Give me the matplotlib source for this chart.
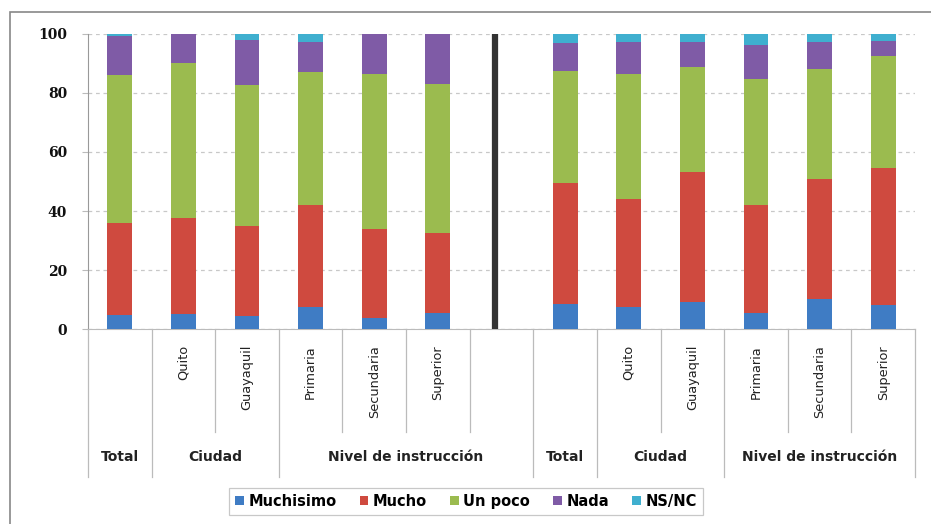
import numpy as np
import matplotlib
matplotlib.use("Agg")
import matplotlib.pyplot as plt
from matplotlib.patches import Rectangle
from matplotlib.lines import Line2D

# ---- data ----
sub_labels = ["", "Quito", "Guayaquil", "Primaria", "Secundaria", "Superior",
              "", "Quito", "Guayaquil", "Primaria", "Secundaria", "Superior"]
group_labels = ["Total", "Ciudad", "Nivel de instrucción",
                "Total", "Ciudad", "Nivel de instrucción"]
series_names = ["Muchisimo", "Mucho", "Un poco", "Nada", "NS/NC"]
muchisimo = [4.8, 5.2, 4.5, 7.4, 3.7, 5.4, 8.6, 7.4, 9.3, 5.4, 10.1, 8.2]
mucho     = [31.3, 32.3, 30.4, 34.8, 30.1, 27.1, 40.8, 36.8, 43.9, 36.8, 40.6, 46.3]
un_poco   = [49.8, 52.5, 47.9, 44.8, 52.6, 50.5, 38.1, 42.2, 35.6, 42.4, 37.3, 38.0]
nada      = [13.3, 10.0, 15.1, 10.3, 13.6, 16.8, 9.5, 10.9, 8.5, 11.6, 9.3, 5.1]
ns_nc     = [0.8, 0.0, 2.1, 2.7, 0.0, 0.2, 3.0, 2.7, 2.7, 3.8, 2.7, 2.4]
y_ticks = [0, 20, 40, 60, 80, 100]

colors = ["#3F7CC4", "#CF4A3F", "#9BBB4F", "#7F5BA6", "#3FAFCF"]

# ---- layout ----
W, H = 931, 524
fig = plt.figure(figsize=(W / 100, H / 100), dpi=100)
ax_left, ax_right = 88 / W, 915 / W
ax_top, ax_bot = 1 - 33.7 / H, 1 - 329.3 / H
ax = fig.add_axes([ax_left, ax_bot, ax_right - ax_left, ax_top - ax_bot])

n_slots = len(sub_labels) + 1
gap = 6
pos = np.array([i if i < gap else i + 1 for i in range(len(sub_labels))])

series = [muchisimo, mucho, un_poco, nada, ns_nc]
bottom = np.zeros(len(pos))
handles = []
for name, vals, c in zip(series_names, series, colors):
    vals = np.array(vals, dtype=float)
    b = ax.bar(pos, vals, width=0.39, bottom=bottom, color=c, label=name,
               zorder=3, linewidth=0)
    handles.append(b)
    bottom += vals

# separator black line in gap slot
ax.plot([gap - 0.1, gap - 0.1], [0, 100], color="#333333", lw=4.5,
        solid_capstyle="butt", zorder=4)

ax.set_xlim(-0.5, n_slots - 0.5)
ax.set_ylim(0, 100)
ax.set_yticks(y_ticks)
ax.set_yticklabels([str(t) for t in y_ticks], fontfamily="DejaVu Serif",
                   fontweight="bold", fontsize=10, color="#111111")
ax.tick_params(axis="y", length=4, color="#BBBBBB", pad=11)
ax.set_xticks([])
for s in ["top", "right"]:
    ax.spines[s].set_visible(False)
ax.spines["left"].set_color("#999999")
ax.spines["bottom"].set_color("#BBBBBB")
ax.yaxis.grid(True, linestyle=(0, (3, 3)), color="#C8C8C8", lw=0.9, zorder=0)
ax.set_axisbelow(True)

# multi-level category axis
tr = ax.get_xaxis_transform()
ax_h = 329.3 - 33.7


def ay(py):
    return -(py - 329.3) / ax_h


long_b = [-0.5, 0.5, 2.5, 6.5, 7.5, 9.5, 12.5]
short_b = [1.5, 3.5, 4.5, 5.5, 8.5, 10.5, 11.5]
for xb in long_b:
    ax.add_line(Line2D([xb, xb], [0, ay(477)], transform=tr, color="#BBBBBB",
                       lw=0.9, clip_on=False))
for xb in short_b:
    ax.add_line(Line2D([xb, xb], [0, ay(432)], transform=tr, color="#BBBBBB",
                       lw=0.9, clip_on=False))

for p, lab in zip(pos, sub_labels):
    if lab:
        ax.text(p, ay(345), lab, transform=tr, rotation=90, ha="center",
                va="top", fontsize=9.3, fontfamily="DejaVu Sans", color="#222222")

group_spans = [(0, 0), (1, 2), (3, 6), (7, 7), (8, 9), (10, 12)]
for (a, b), lab in zip(group_spans, group_labels):
    ax.text((a + b) / 2, ay(457), lab, transform=tr, ha="center", va="center",
            fontsize=10, fontweight="bold", fontfamily="DejaVu Sans",
            color="#222222")

leg = fig.legend(handles=handles, labels=series_names, loc="center",
                 bbox_to_anchor=(466 / W, 1 - 501.5 / H), ncol=5, frameon=True,
                 fancybox=False, edgecolor="#BBBBBB", handlelength=0.6,
                 handleheight=0.6, handletextpad=0.3, columnspacing=1.6,
                 borderpad=0.4, prop={"family": "DejaVu Sans", "weight": "bold",
                                      "size": 10.5})
leg.get_frame().set_linewidth(0.9)

# outer chart border (clipped at right/bottom)
fig.patches.append(Rectangle((10 / W, -0.1), 1.2, 1 - 12 / H + 0.1,
                             transform=fig.transFigure, fill=False,
                             edgecolor="#888888", lw=1.2))

fig.savefig("out.png", dpi=100)
